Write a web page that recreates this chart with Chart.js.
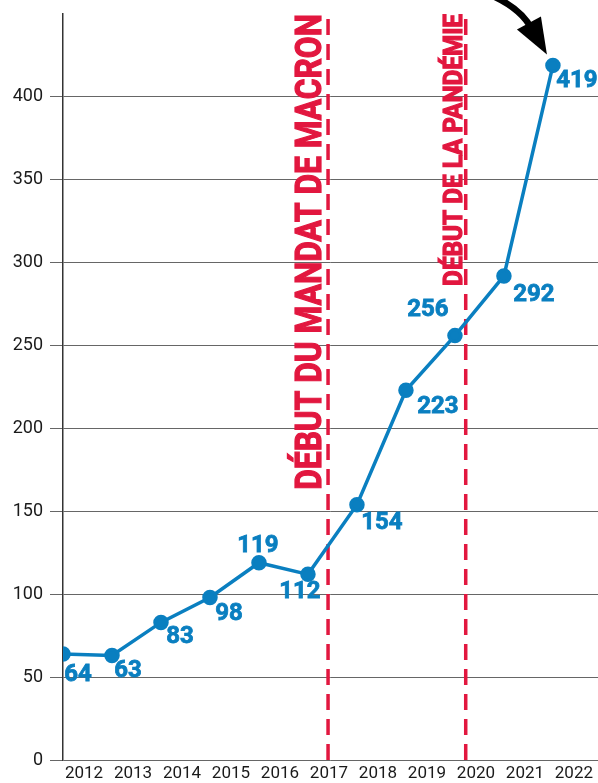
<!DOCTYPE html>
<html>
<head>
<meta charset="utf-8">
<script src="https://cdn.jsdelivr.net/npm/chart.js@4.4.0/dist/chart.umd.min.js"></script>
<style>
  html, body { margin: 0; padding: 0; background: #fff; overflow: hidden; }
  #wrap { width: 598px; height: 783px; }
  #chart { display: block; }
</style>
</head>
<body>
<div id="wrap"><canvas id="chart" width="598" height="783"></canvas></div>
<script>
document.addEventListener("DOMContentLoaded", function () {

  // données
  const years = ['2012', '2013', '2014', '2015', '2016', '2017', '2018', '2019', '2020', '2021', '2022'];
  const values = [64, 63, 83, 98, 119, 112, 154, 223, 256, 292, 419];
  const yTicks = [0, 50, 100, 150, 200, 250, 300, 350, 400];
  const events = ['DÉBUT DU MANDAT DE MACRON', 'DÉBUT DE LA PANDÉMIE'];
  const eventPos = [5.41, 8.22];     // position sur l'axe x
  const eventTextFrom = [163, 286];  // bas du texte (valeur y)

  // décalage des étiquettes (px)
  const labelOffsets = [[15, 21], [16, 15], [19, 15], [19, 16], [-1, -17], [-8, 18], [25, 18], [32, 17], [-27, -26], [30, 19], [24, 16]];

  const BLUE = '#0a7fc0';
  const RED = '#e2173f';

  const points = values.map((v, i) => ({ x: i, y: v }));

  const eventSets = eventPos.map(p => ({
    data: [{ x: p, y: 0 }, { x: p, y: 450 }],
    borderColor: RED,
    borderWidth: 3.5,
    borderDash: [16, 9],
    pointRadius: 0,
    order: 2
  }));

  // la zone du graphique va jusqu'au bord droit
  const fullWidthPlugin = {
    id: 'fullWidth',
    afterLayout(chart) {
      const xs = chart.scales.x;
      const right = chart.width;
      xs.right = right;
      xs.width = right - xs.left;
      xs.configure();
      chart.chartArea.right = right;
      chart.chartArea.width = right - chart.chartArea.left;
    }
  };

  const labelsPlugin = {
    id: 'valueLabels',
    afterDatasetsDraw(chart) {
      const ctx = chart.ctx;
      const meta = chart.getDatasetMeta(0);
      ctx.save();
      ctx.fillStyle = BLUE;
      ctx.strokeStyle = BLUE;
      ctx.lineWidth = 0.8;
      ctx.font = 'bold 24px Roboto';
      ctx.textAlign = 'center';
      ctx.textBaseline = 'middle';
      meta.data.forEach((pt, i) => {
        const x = pt.x + labelOffsets[i][0], y = pt.y + labelOffsets[i][1];
        ctx.fillText(String(values[i]), x, y);
        ctx.strokeText(String(values[i]), x, y);
      });
      ctx.restore();
    }
  };

  const eventPlugin = {
    id: 'eventText',
    beforeDatasetsDraw(chart) {
      const ctx = chart.ctx;
      const xs = chart.scales.x, ys = chart.scales.y;
      const sizes = [36, 25];
      const gaps = [7, 4];
      ctx.save();
      ctx.fillStyle = RED;
      ctx.strokeStyle = RED;
      ctx.lineWidth = 1.2;
      events.forEach((t, i) => {
        const x = xs.getPixelForValue(eventPos[i]) - gaps[i];
        const yb = ys.getPixelForValue(eventTextFrom[i]);
        const len = yb - chart.chartArea.top;
        ctx.font = 'bold ' + sizes[i] + 'px Roboto, sans-serif';
        const w = ctx.measureText(t).width;
        ctx.save();
        ctx.translate(x, yb);
        ctx.rotate(-Math.PI / 2);
        ctx.scale(len / w, 1);
        ctx.textBaseline = 'alphabetic';
        ctx.textAlign = 'left';
        ctx.fillText(t, 0, 0);
        ctx.strokeText(t, 0, 0);
        ctx.restore();
      });
      ctx.restore();
    }
  };

  const arrowPlugin = {
    id: 'arrow',
    afterDatasetsDraw(chart) {
      const ctx = chart.ctx;
      const meta = chart.getDatasetMeta(0);
      const last = meta.data[meta.data.length - 1];
      const px = last.x, py = last.y;
      ctx.save();
      ctx.strokeStyle = '#000';
      ctx.fillStyle = '#000';
      ctx.lineWidth = 6.5;
      ctx.beginPath();
      ctx.moveTo(px - 66, py - 72);
      ctx.quadraticCurveTo(px - 32, py - 58, px - 21, py - 36);
      ctx.stroke();
      ctx.beginPath();
      ctx.moveTo(px - 36, py - 36);
      ctx.lineTo(px - 12, py - 49);
      ctx.lineTo(px - 6, py - 11);
      ctx.closePath();
      ctx.fill();
      ctx.restore();
    }
  };

  const ctx = document.getElementById('chart');
  const chart = new Chart(ctx, {
    type: 'line',
    data: {
      datasets: [{
        data: points,
        borderColor: BLUE,
        backgroundColor: BLUE,
        borderWidth: 3.5,
        pointRadius: 6,
        pointHoverRadius: 6,
        fill: false,
        tension: 0,
        order: 1
      }, ...eventSets]
    },
    options: {
      responsive: false,
      animation: false,
      layout: { padding: { top: 14, right: 0, left: 0, bottom: 0 } },
      plugins: {
        legend: { display: false },
        tooltip: { enabled: false }
      },
      scales: {
        x: {
          type: 'linear',
          min: 0,
          max: 10.92,
          afterBuildTicks(scale) {
            scale.ticks = years.map((y, i) => ({ value: i }));
          },
          grid: { display: false, drawTicks: false },
          border: { display: false },
          afterFit(scale) {
            scale.height = 23;
            scale.paddingLeft = 0;
            scale.paddingRight = 0;
          },
          ticks: {
            autoSkip: false,
            maxRotation: 0,
            labelOffset: 21,
            padding: 4,
            color: '#1a1a1a',
            font: { family: 'Roboto', size: 17 },
            callback: (v) => years[v]
          }
        },
        y: {
          min: 0,
          max: 450,
          afterBuildTicks(scale) {
            scale.ticks = yTicks.map(v => ({ value: v }));
          },
          afterFit(scale) {
            scale.width = 63;
            scale.paddingTop = 0;
            scale.paddingBottom = 0;
          },
          grid: { color: '#666', lineWidth: 1, tickLength: 13, drawTicks: true },
          border: { color: '#333', width: 1.5 },
          ticks: {
            padding: 7,
            color: '#1a1a1a',
            font: { family: 'Roboto', size: 18 }
          }
        }
      }
    },
    plugins: [fullWidthPlugin, eventPlugin, labelsPlugin, arrowPlugin]
  });
});
</script>
</body>
</html>
